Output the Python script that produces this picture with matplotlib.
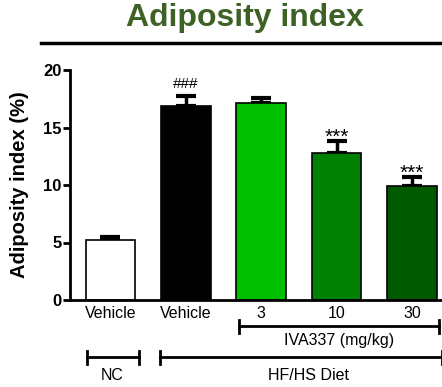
import numpy as np
import matplotlib.pyplot as plt
from matplotlib.transforms import blended_transform_factory

plt.rcParams['font.family'] = ['Liberation Sans', 'DejaVu Sans']

# Adiposity index per group (mean and upper SEM)
groups = ['Vehicle', 'Vehicle', '3', '10', '30']
means = [5.2, 16.9, 17.1, 12.8, 9.9]
sems = [0.3, 0.8, 0.45, 1.0, 0.8]
colors = ['white', 'black', '#00c000', '#008000', '#005a00']
stars = ['', '###', '', '***', '***']

W, H = 442, 387
fig = plt.figure(figsize=(W / 100, H / 100), dpi=100)
ax = fig.add_axes([70 / W, 1 - 300 / H, (W - 70) / W, 230 / H])

x = np.arange(len(groups))
ax.bar(x, means, width=0.66, color=colors, edgecolor='black', linewidth=1.2, zorder=2)
ax.errorbar(x, means, yerr=[np.zeros(len(sems)), sems], fmt='none', ecolor='black',
            elinewidth=2.5, capsize=7.5, capthick=3, zorder=1)
for xi, m, s, t in zip(x, means, sems, stars):
    if t == '###':
        ax.annotate(t, (xi, m + s), xytext=(0, 4), textcoords='offset points',
                    ha='center', va='bottom', fontsize=11)
    elif t:
        ax.annotate(t, (xi, m + s), xytext=(0, -4), textcoords='offset points',
                    ha='center', va='bottom', fontsize=15)

ax.set_xlim(-0.537, 4.40)
ax.set_ylim(0, 20)
ax.set_yticks([0, 5, 10, 15, 20])
ax.set_xticks(x)
ax.set_xticklabels(groups, fontsize=11.5)
ax.tick_params(axis='x', length=0, pad=4)
ax.tick_params(axis='y', length=5, width=2, labelsize=12, pad=1)
for lab in ax.get_yticklabels():
    lab.set_fontweight('bold')
for side in ['top', 'right']:
    ax.spines[side].set_visible(False)
ax.spines['left'].set_linewidth(2)
ax.spines['bottom'].set_linewidth(2)
ax.set_ylabel('Adiposity index (%)', fontsize=14.5, fontweight='bold', labelpad=10)

# title and rule beneath it
fig.text(245 / W, 1 - 18 / H, 'Adiposity index', ha='center', va='center',
         fontsize=23, fontweight='bold', color='#3e6126')
fig.add_artist(plt.Line2D([41 / W, 1], [1 - 42.5 / H] * 2, color='black', lw=2.5))

# group brackets below the axis
tr = blended_transform_factory(ax.transData, fig.transFigure)


def bracket(x0, x1, ypx):
    y = 1 - ypx / H
    h = 6.5 / H
    ax.plot([x0, x1], [y, y], color='black', lw=2, transform=tr, clip_on=False)
    for xe in (x0, x1):
        ax.plot([xe, xe], [y - h, y + h], color='black', lw=2, transform=tr, clip_on=False)


bracket(1.70, 4.36, 326)
fig.text(339 / W, 1 - 340 / H, 'IVA337 (mg/kg)', ha='center', va='center', fontsize=11.5)
bracket(-0.31, 0.38, 357)
fig.text(112 / W, 1 - 375 / H, 'NC', ha='center', va='center', fontsize=11.5)
bracket(0.66, 4.40, 357)
fig.text(308 / W, 1 - 375 / H, 'HF/HS Diet', ha='center', va='center', fontsize=11.5)

fig.savefig('out.png', dpi=100)
plt.close()
